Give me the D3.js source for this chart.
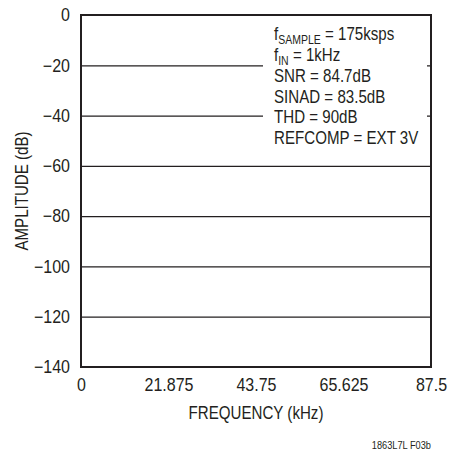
<!DOCTYPE html>
<html>
<head>
<meta charset="utf-8">
<script src="https://cdn.jsdelivr.net/npm/d3@7"></script>
<style>
  body { margin: 0; background: #fff; }
  text { font-family: "Liberation Sans", Arial, sans-serif; fill: #231f20; }
</style>
</head>
<body>
<div class="fftchart"></div>
<script>
// axis ticks
const freqTicks = [0, 21.875, 43.75, 65.625, 87.5];
const ampTicks = [0, -20, -40, -60, -80, -100, -120, -140];

// annotation text: [main, subscript, rest]
const noteLines = [
  ['f', 'SAMPLE', ' = 175ksps'],
  ['f', 'IN', ' = 1kHz'],
  ['SNR = 84.7dB', '', ''],
  ['SINAD = 83.5dB', '', ''],
  ['THD = 90dB', '', ''],
  ['REFCOMP = EXT 3V', '', '']
];

// the original uses a condensed face, so squeeze the text sideways
const sxNum = 0.89, sxWord = 0.84;

const svg = d3.select('.fftchart').append('svg'),
  margin = { top: 15, right: 21, bottom: 83, left: 81 },
  width = 452 - margin.left - margin.right,
  height = 450 - margin.top - margin.bottom;

svg.attr('width', '452').attr('height', '450');

const x = d3.scaleLinear().domain([0, 87.5]).range([0, width]);
const y = d3.scaleLinear().domain([-140, 0]).range([height, 0]);

const g = svg.append('g')
  .attr('transform', 'translate(' + margin.left + ',' + margin.top + ')');

// gridlines
g.append('g')
  .attr('class', 'grid')
  .call(d3.axisLeft(y).tickValues(ampTicks).tickSize(-width).tickFormat(''))
  .call(function(s) {
    s.select('.domain').remove();
    s.selectAll('line').attr('stroke', '#231f20').attr('stroke-width', 1.2);
  });

// y labels
g.append('g')
  .attr('class', 'y axis')
  .call(d3.axisLeft(y).tickValues(ampTicks).tickSize(0)
    .tickFormat(function(d) { return d < 0 ? '\u2212' + Math.abs(d) : d; }))
  .call(function(s) {
    s.select('.domain').remove();
    s.selectAll('text')
      .attr('font-size', 18)
      .attr('x', -11 / sxNum)
      .attr('transform', 'scale(' + sxNum + ',1)')
      .style('font-family', null);
  });

// x labels
g.append('g')
  .attr('class', 'x axis')
  .attr('transform', 'translate(0,' + height + ')')
  .call(d3.axisBottom(x).tickValues(freqTicks).tickSize(0).tickPadding(11)
    .tickFormat(function(d) { return d; }))
  .call(function(s) {
    s.select('.domain').remove();
    s.selectAll('text')
      .attr('font-size', 18)
      .attr('transform', 'scale(' + sxNum + ',1)')
      .style('font-family', null);
  });

// frame
g.append('rect')
  .attr('width', width)
  .attr('height', height)
  .attr('fill', 'none')
  .attr('stroke', '#231f20')
  .attr('stroke-width', 2);

// annotation box
g.append('rect')
  .attr('x', 182)
  .attr('y', 5)
  .attr('width', 164)
  .attr('height', 128)
  .attr('fill', '#fff');

const note = g.append('text')
  .attr('font-size', 18)
  .attr('transform', 'translate(193,0) scale(' + sxWord + ',1)');

noteLines.forEach(function(l, i) {
  const t = note.append('tspan').attr('x', 0).attr('y', 25.5 + i * 20.7);
  t.append('tspan').text(l[0]);
  if (l[1]) {
    t.append('tspan').attr('font-size', 12.5).attr('dy', 4).text(l[1]);
    t.append('tspan').attr('dy', -4).text(l[2]);
  }
});

// axis titles
svg.append('text')
  .attr('transform', 'translate(' + (margin.left + width / 2) + ',419) scale(' + sxWord + ',1)')
  .attr('text-anchor', 'middle')
  .attr('font-size', 18)
  .text('FREQUENCY (kHz)');

svg.append('text')
  .attr('transform', 'translate(28,' + (margin.top + height / 2) + ') rotate(-90) scale(' + sxWord + ',1)')
  .attr('text-anchor', 'middle')
  .attr('font-size', 18)
  .text('AMPLITUDE (dB)');

svg.append('text')
  .attr('transform', 'translate(431,449) scale(0.84,1)')
  .attr('text-anchor', 'end')
  .attr('font-size', 11)
  .text('1863L7L F03b');
</script>
</body>
</html>
